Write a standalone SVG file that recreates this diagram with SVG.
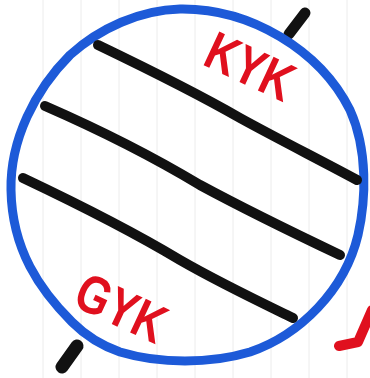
<svg xmlns="http://www.w3.org/2000/svg" width="370" height="378" viewBox="0 0 370 378">
  <style>
    .rule { stroke: #ececec; stroke-width: 1; }
    .globe { fill: none; stroke: #1d5ad8; stroke-width: 9; }
    .ink { fill: none; stroke: #111111; stroke-linecap: round; stroke-linejoin: round; }
    .lbl { fill: #e0101e; font-family: "Liberation Sans", Arial, sans-serif; font-weight: bold; font-size: 54px; }
    .redmark { fill: none; stroke: #e0101e; stroke-width: 10; stroke-linecap: round; stroke-linejoin: round; }
  </style>
  <rect width="370" height="378" fill="#ffffff"/>
  <g id="paper">
    <line class="rule" x1="43" y1="0" x2="43" y2="378"/>
    <line class="rule" x1="81" y1="0" x2="81" y2="378"/>
    <line class="rule" x1="119" y1="0" x2="119" y2="378"/>
    <line class="rule" x1="157" y1="0" x2="157" y2="378"/>
    <line class="rule" x1="195" y1="0" x2="195" y2="378"/>
    <line class="rule" x1="233" y1="0" x2="233" y2="378"/>
    <line class="rule" x1="271" y1="0" x2="271" y2="378"/>
    <line class="rule" x1="309" y1="0" x2="309" y2="378"/>
    <line class="rule" x1="347" y1="0" x2="347" y2="378"/>
  </g>
  <g id="axis">
    <line class="ink" x1="289" y1="34" x2="305" y2="13" stroke-width="11"/>
    <line class="ink" x1="77" y1="346" x2="62" y2="367" stroke-width="13"/>
  </g>
  <g id="globe">
    <path class="globe" d="M180 9 C250 8 320 50 350 110 C368 150 366 200 358 235 C345 290 300 335 250 352 C210 364 160 364 120 352 C100 345 85 335 72 322 C40 290 12 250 11 190 C10 140 35 90 70 55 C100 28 140 10 180 9 Z"/>
  </g>
  <g id="parallels">
    <path class="ink" stroke-width="10" d="M98 45 C150 70 200 95 240 118 C280 140 320 160 357 180"/>
    <path class="ink" stroke-width="10" d="M45 106 C100 130 150 155 200 185 C250 212 300 236 340 255"/>
    <path class="ink" stroke-width="10" d="M23 178 C80 205 130 230 180 260 C220 283 260 302 293 318"/>
  </g>
  <g id="labels">
    <text class="lbl" transform="translate(201,64) rotate(25) scale(0.8,1)">KYK</text>
    <text class="lbl" transform="translate(71,305) rotate(25) scale(0.8,1)">GYK</text>
  </g>
  <g id="mark">
    <path class="redmark" d="M339 346 L358 342 L372 310"/>
  </g>
</svg>
